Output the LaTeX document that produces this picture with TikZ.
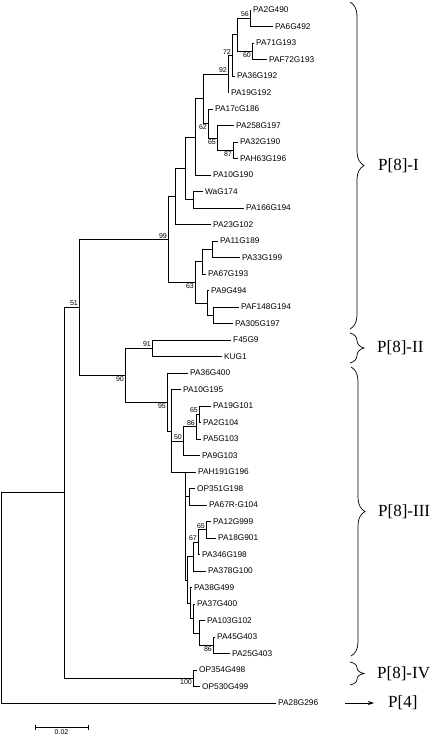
\documentclass[tikz,border=0pt]{standalone}
\usepackage{fontspec}
\setmainfont{Liberation Serif}
\newfontfamily\arialf{Liberation Sans}
\usetikzlibrary{decorations.pathreplacing,arrows.meta}
\begin{document}
\begin{tikzpicture}[x=1pt,y=-1pt,
  br/.style={line width=0.7pt},
  leaf/.style={anchor=west,inner xsep=2pt,inner ysep=0pt,font=\arialf\fontsize{8.3}{9}\selectfont},
  bsa/.style={anchor=south east,inner sep=1pt,font=\arialf\fontsize{7}{8}\selectfont},
  bsb/.style={anchor=north east,inner sep=1pt,font=\arialf\fontsize{7}{8}\selectfont},
  grp/.style={anchor=west,inner sep=0pt,font=\fontsize{17}{20}\selectfont},
  brc/.style={decorate,decoration={brace,amplitude=14pt},line width=0.7pt}]
\useasboundingbox (0,0) rectangle (432,737);
% leaves
\node[leaf] (L0) at (251,10) {PA2G490};
\node[leaf] (L1) at (273,26.5) {PA6G492};
\node[leaf] (L2) at (254,43) {PA71G193};
\node[leaf] (L3) at (267,59.5) {PAF72G193};
\node[leaf] (L4) at (235,76) {PA36G192};
\node[leaf] (L5) at (229,92.5) {PA19G192};
\node[leaf] (L6) at (213,109) {PA17cG186};
\node[leaf] (L7) at (234,125.5) {PA258G197};
\node[leaf] (L8) at (238,142) {PA32G190};
\node[leaf] (L9) at (238,158.5) {PAH63G196};
\node[leaf] (L10) at (211,175) {PA10G190};
\node[leaf] (L11) at (203,191.5) {WaG174};
\node[leaf] (L12) at (244,208) {PA166G194};
\node[leaf] (L13) at (211,224.5) {PA23G102};
\node[leaf] (L14) at (218,241) {PA11G189};
\node[leaf] (L15) at (240,257.5) {PA33G199};
\node[leaf] (L16) at (206,274) {PA67G193};
\node[leaf] (L17) at (209,290.5) {PA9G494};
\node[leaf] (L18) at (239,307) {PAF148G194};
\node[leaf] (L19) at (233,323.5) {PA305G197};
\node[leaf] (L20) at (231,340) {F45G9};
\node[leaf] (L21) at (222,356.5) {KUG1};
\node[leaf] (L22) at (188,373) {PA36G400};
\node[leaf] (L23) at (181,389.5) {PA10G195};
\node[leaf] (L24) at (211,406) {PA19G101};
\node[leaf] (L25) at (201,422.5) {PA2G104};
\node[leaf] (L26) at (201,439) {PA5G103};
\node[leaf] (L27) at (200,455.5) {PA9G103};
\node[leaf] (L28) at (196,472) {PAH191G196};
\node[leaf] (L29) at (195,488.5) {OP351G198};
\node[leaf] (L30) at (207,505) {PA67R-G104};
\node[leaf] (L31) at (211,521.5) {PA12G999};
\node[leaf] (L32) at (216,538) {PA18G901};
\node[leaf] (L33) at (200,554.5) {PA346G198};
\node[leaf] (L34) at (206,571) {PA378G100};
\node[leaf] (L35) at (192,587.5) {PA38G499};
\node[leaf] (L36) at (195,604) {PA37G400};
\node[leaf] (L37) at (205,620.5) {PA103G102};
\node[leaf] (L38) at (215,637) {PA45G403};
\node[leaf] (L39) at (230,653.5) {PA25G403};
\node[leaf] (L40) at (197,670) {OP354G498};
\node[leaf] (L41) at (200,686.5) {OP530G499};
\node[leaf] (L42) at (276,703) {PA28G296};
% internal nodes
\coordinate (n56) at (250,18.25);
\coordinate (n60) at (252,51.25);
\coordinate (nX) at (237,34.75);
\coordinate (n72) at (232,55.4);
\coordinate (n92) at (228,74);
\coordinate (n87) at (233,150.25);
\coordinate (n65) at (217,138.1);
\coordinate (n62) at (208,123.6);
\coordinate (nR) at (203,98.8);
\coordinate (nS) at (195,136.9);
\coordinate (nW) at (193,199.75);
\coordinate (nT) at (185,168.3);
\coordinate (nU) at (175,196.4);
\coordinate (nK) at (212,249.25);
\coordinate (nL) at (202,261.6);
\coordinate (nN) at (213,315.25);
\coordinate (nM) at (207,302.9);
\coordinate (n63) at (195,282.25);
\coordinate (n99) at (168,239.3);
\coordinate (n91) at (152,348.25);
\coordinate (n65a) at (199,414.25);
\coordinate (n86) at (196,426.6);
\coordinate (n50) at (183,441);
\coordinate (nC) at (171,431);
\coordinate (nD) at (185,472);
\coordinate (nE) at (189,496.75);
\coordinate (n65b) at (206,529.75);
\coordinate (n67) at (198,542.1);
\coordinate (nF) at (193,556.5);
\coordinate (n86b) at (213,645.25);
\coordinate (nH) at (199,632.9);
\coordinate (nI) at (193,618);
\coordinate (nJ) at (190,603);
\coordinate (nK2) at (187,580);
\coordinate (n95) at (167,402);
\coordinate (n90) at (125,375.1);
\coordinate (nA) at (79,307.2);
\coordinate (n100) at (193,678.25);
\coordinate (nB) at (64,492.7);
\coordinate (root) at (1,597.9);
% branches
\draw[br] (n56) |- (L0.west); \draw[br] (n56) |- (L1.west);
\draw[br] (n60) |- (L2.west); \draw[br] (n60) |- (L3.west);
\draw[br] (nX) |- (n56); \draw[br] (nX) |- (n60);
\draw[br] (n72) |- (nX); \draw[br] (n72) |- (L4.west);
\draw[br] (n92) |- (n72); \draw[br] (n92) |- (L5.west);
\draw[br] (n87) |- (L8.west); \draw[br] (n87) |- (L9.west);
\draw[br] (n65) |- (L7.west); \draw[br] (n65) |- (n87);
\draw[br] (n62) |- (L6.west); \draw[br] (n62) |- (n65);
\draw[br] (nR) |- (n92); \draw[br] (nR) |- (n62);
\draw[br] (nS) |- (nR); \draw[br] (nS) |- (L10.west);
\draw[br] (nW) |- (L11.west); \draw[br] (nW) |- (L12.west);
\draw[br] (nT) |- (nS); \draw[br] (nT) |- (nW);
\draw[br] (nU) |- (nT); \draw[br] (nU) |- (L13.west);
\draw[br] (nK) |- (L14.west); \draw[br] (nK) |- (L15.west);
\draw[br] (nL) |- (nK); \draw[br] (nL) |- (L16.west);
\draw[br] (nN) |- (L18.west); \draw[br] (nN) |- (L19.west);
\draw[br] (nM) |- (L17.west); \draw[br] (nM) |- (nN);
\draw[br] (n63) |- (nL); \draw[br] (n63) |- (nM);
\draw[br] (n99) |- (nU); \draw[br] (n99) |- (n63);
\draw[br] (n91) |- (L20.west); \draw[br] (n91) |- (L21.west);
\draw[br] (n65a) |- (L24.west); \draw[br] (n65a) |- (L25.west);
\draw[br] (n86) |- (n65a); \draw[br] (n86) |- (L26.west);
\draw[br] (n50) |- (n86); \draw[br] (n50) |- (L27.west);
\draw[br] (nE) |- (L29.west); \draw[br] (nE) |- (L30.west);
\draw[br] (n65b) |- (L31.west); \draw[br] (n65b) |- (L32.west);
\draw[br] (n67) |- (n65b); \draw[br] (n67) |- (L33.west);
\draw[br] (nF) |- (n67); \draw[br] (nF) |- (L34.west);
\draw[br] (n86b) |- (L38.west); \draw[br] (n86b) |- (L39.west);
\draw[br] (nH) |- (L37.west); \draw[br] (nH) |- (n86b);
\draw[br] (nI) |- (L36.west); \draw[br] (nI) |- (nH);
\draw[br] (nJ) |- (L35.west); \draw[br] (nJ) |- (nI);
\draw[br] (nK2) |- (nF); \draw[br] (nK2) |- (nJ);
\draw[br] (nD) |- (L28.west); \draw[br] (nD) |- (nE); \draw[br] (nD) |- (nK2);
\draw[br] (nC) |- (L23.west); \draw[br] (nC) |- (n50); \draw[br] (nC) |- (nD);
\draw[br] (n95) |- (L22.west); \draw[br] (n95) |- (nC);
\draw[br] (n90) |- (n91); \draw[br] (n90) |- (n95);
\draw[br] (nA) |- (n99); \draw[br] (nA) |- (n90);
\draw[br] (n100) |- (L40.west); \draw[br] (n100) |- (L41.west);
\draw[br] (nB) |- (nA); \draw[br] (nB) |- (n100);
\draw[br] (root) |- (nB); \draw[br] (root) |- (L42.west);
% bootstrap values
\node[bsa] (b56) at (n56) {56};
\node[bsb] (b60) at (n60) {60};
\node[bsa] (b72) at (n72) {72};
\node[bsa] (b92) at (n92) {92};
\node[bsb] (b62) at (n62) {62};
\node[bsb] (b65) at (n65) {65};
\node[bsb] (b87) at (n87) {87};
\node[bsa] (b99) at (n99) {99};
\node[bsb] (b63) at (n63) {63};
\node[bsa] (b51) at (nA) {51};
\node[bsa] (b91) at (n91) {91};
\node[bsb] (b90) at (n90) {90};
\node[bsb] (b95) at (n95) {95};
\node[bsa] (b65a) at (n65a) {65};
\node[bsa] (b86) at (n86) {86};
\node[bsa] (b50) at (n50) {50};
\node[bsa] (b65b) at (n65b) {65};
\node[bsa] (b67) at (n67) {67};
\node[bsb] (b86b) at (n86b) {86};
\node[bsb] (b100) at (n100) {100};
% scale bar
\coordinate (s1) at (35,727);
\coordinate (s2) at (88,727);
\draw[br] (s1) -- (s2);
\draw[br] ([yshift=-2.5pt]s1) -- ([yshift=2.5pt]s1);
\draw[br] ([yshift=-2.5pt]s2) -- ([yshift=2.5pt]s2);
\node[anchor=north,inner sep=0.5pt,font=\arialf\fontsize{7}{8}\selectfont] (sl) at (61.5,729) {0.02};
% braces and group labels
\coordinate (bIa) at (350,2); \coordinate (bIb) at (350,329);
\coordinate (bIIa) at (350,333); \coordinate (bIIb) at (350,363);
\coordinate (bIIIa) at (351,367); \coordinate (bIIIb) at (351,656);
\coordinate (bIVa) at (350,662); \coordinate (bIVb) at (350,685);
\draw[brc] (bIa) -- (bIb);
\draw[brc] (bIIa) -- (bIIb);
\draw[brc] (bIIIa) -- (bIIIb);
\draw[brc] (bIVa) -- (bIVb);
\node[grp] (gI) at (378,165.5) {P[8]-I};
\node[grp] (gII) at (377,348) {P[8]-II};
\node[grp] (gIII) at (378,511.5) {P[8]-III};
\node[grp] (gIV) at (377,673.5) {P[8]-IV};
\coordinate (ar) at (345,703);
\node[grp] (g4) at (388,703) {P[4]};
\draw[line width=0.7pt,-{Stealth[length=6pt,width=4pt]}] (ar) -- ([xshift=-14pt]g4.west);
\end{tikzpicture}
\end{document}
